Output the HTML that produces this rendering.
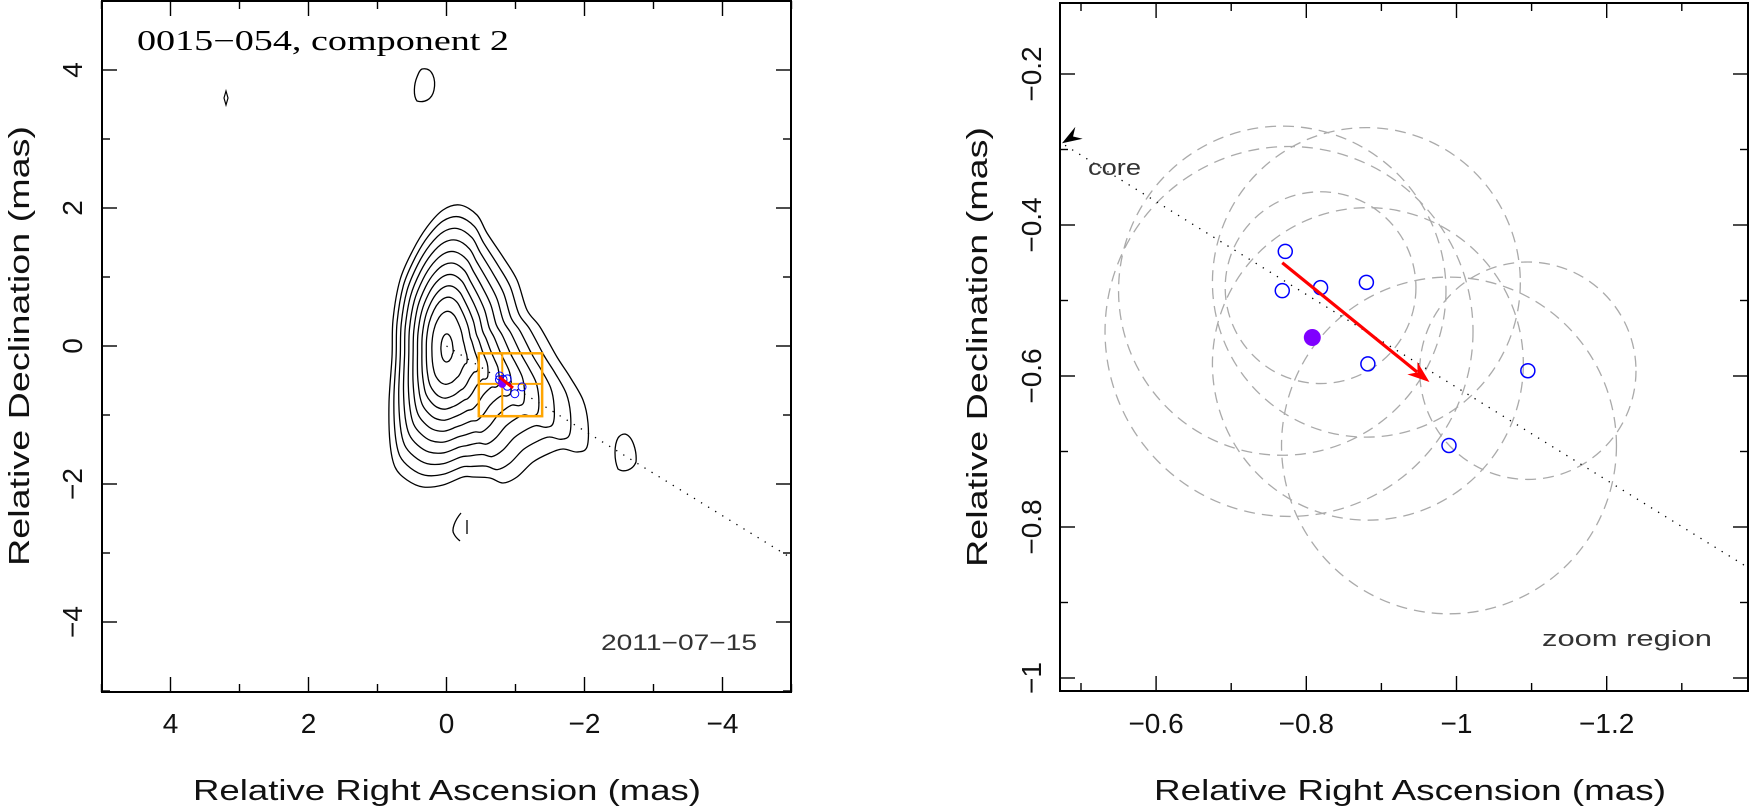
<!DOCTYPE html>
<html><head><meta charset="utf-8">
<style>
html,body{margin:0;padding:0;background:#fff;}
svg{display:block;}
</style></head>
<body>
<svg id="fig" width="1753" height="811" viewBox="0 0 1753 811" xmlns="http://www.w3.org/2000/svg" font-family="Liberation Sans, sans-serif">
<defs>
<clipPath id="clipL"><rect x="102" y="1" width="689" height="691"/></clipPath>
<clipPath id="clipR"><rect x="1060" y="3" width="688" height="688"/></clipPath>
</defs>
<g id="left"></g>
<g id="right"></g>
</svg>
<script>
// ---- data ----
const compRA = [-0.772, -0.768, -0.819, -0.880, -0.882, -0.990, -1.095];
const compDec = [-0.435, -0.487, -0.483, -0.476, -0.584, -0.692, -0.593];
const meanRA = [-0.808];
const meanDec = [-0.549];
const arrowRA = [-0.768, -0.964];
const arrowDec = [-0.450, -0.608];
const circCX = [-0.777, -0.768, -0.819, -0.880, -0.882, -0.990, -1.095];
const circCY = [-0.541, -0.487, -0.483, -0.476, -0.584, -0.692, -0.593];
const circR = [0.245, 0.218, 0.127, 0.205, 0.207, 0.223, 0.144];
const lineSlope = [0.615];
const zoomBox = [-0.468, -1.386, -0.106, -1.017];
const leftXTicks = [4, 2, 0, -2, -4];
const leftYTicks = [4, 2, 0, -2, -4];
const rightXTicks = [-0.6, -0.8, -1, -1.2];
const rightXLabels = ["\u22120.6", "\u22120.8", "\u22121", "\u22121.2"];
const rightYTicks = [-0.2, -0.4, -0.6, -0.8, -1];
const rightYLabels = ["\u22120.2", "\u22120.4", "\u22120.6", "\u22120.8", "\u22121"];
const contourLevels = [1, 0.92, 0.84, 0.76, 0.68, 0.6, 0.52, 0.44, 0.36, 0.26, 0.1];

const NS = "http://www.w3.org/2000/svg";
function mk(parent, tag, attrs, txt) {
  const e = document.createElementNS(NS, tag);
  for (const k in attrs) e.setAttribute(k, attrs[k]);
  if (txt !== undefined) e.textContent = txt;
  parent.appendChild(e);
  return e;
}
const L = document.getElementById('left');
const R = document.getElementById('right');

const lx = v => 446.5 - v * 69;
const ly = v => 346 - v * 69;
const rx = v => 1081 + (-0.5 - v) * 751;
const ry = v => 74 + (-0.2 - v) * 755;
const fmt = v => (v < 0 ? "\u2212" : "") + Math.abs(v);

// ---------- LEFT PANEL ----------
const lc = mk(L, 'g', {'clip-path': 'url(#clipL)'});


const cx0 = 446.7, cy0 = 348;
const outer = [[460,205],[477,215],[487,233],[503,257],[517,280],[527,310],[540,327],[557,357],[570,377],[583,400],[588,423],[587,447],[577,452],[563,449],[550,453],[533,462],[517,477],[503,483],[490,478],[473,477],[463,477],[443,485],[423,487],[407,480],[395,467],[390,443],[389,403],[392,357],[393,320],[400,280],[413,250],[427,227],[443,210]];
function smooth(pts) {
  const n = pts.length; let d = `M${pts[0][0].toFixed(1)},${pts[0][1].toFixed(1)}`;
  for (let i = 0; i < n; i++) {
    const p0 = pts[(i - 1 + n) % n], p1 = pts[i], p2 = pts[(i + 1) % n], p3 = pts[(i + 2) % n];
    const c1 = [p1[0] + (p2[0] - p0[0]) / 6, p1[1] + (p2[1] - p0[1]) / 6];
    const c2 = [p2[0] - (p3[0] - p1[0]) / 6, p2[1] - (p3[1] - p1[1]) / 6];
    d += ` C${c1[0].toFixed(1)},${c1[1].toFixed(1)} ${c2[0].toFixed(1)},${c2[1].toFixed(1)} ${p2[0].toFixed(1)},${p2[1].toFixed(1)}`;
  }
  return d + 'Z';
}
contourLevels.forEach((s, i) => {
  const w = s;
  const pts = outer.map(p => {
    const dx = p[0] - cx0, dy = p[1] - cy0;
    const th = Math.atan2(dy, dx), ro = Math.hypot(dx, dy);
    const re = 1 / Math.sqrt(Math.cos(th) ** 2 / (58 * 58) + Math.sin(th) ** 2 / (141 * 141));
    const r = s * (w * ro + (1 - w) * re);
    return [cx0 + r * Math.cos(th), cy0 + r * Math.sin(th)];
  });
  const p = mk(lc, 'path', {d: smooth(pts), fill: 'none', stroke: '#000', 'stroke-width': 1.3});
  
  
});
const iso1 = mk(lc, 'path', {d: 'M422,69 C433,67 436,80 434,90 C432,100 424,103 417,101 C413,96 414,84 417,77 C419,72 420,70 422,69Z', fill: 'none', stroke: '#000', 'stroke-width': 1.3});


const iso2 = mk(lc, 'path', {d: 'M226,91 L228,98 L226,105 L224,98 Z', fill: 'none', stroke: '#000', 'stroke-width': 1.2});


const iso3 = mk(lc, 'path', {d: 'M625,434 C633,436 637,452 636,462 C633,470 624,473 618,469 C614,460 614,445 618,438 C620,435 622,434 625,434Z', fill: 'none', stroke: '#000', 'stroke-width': 1.3});


const iso4 = mk(lc, 'path', {d: 'M461,513 C455,520 451,530 454,534 C456,538 459,540 460,541 M467,520 L467,534', fill: 'none', stroke: '#000', 'stroke-width': 1.3});


const dl = mk(lc, 'line', {x1: lx(0), y1: ly(0), x2: lx(-5.2), y2: ly(-5.2 * lineSlope[0]), stroke: '#000', 'stroke-width': 1.3, 'stroke-dasharray': '1.3 7'});


const zb = mk(lc, 'rect', {x: lx(zoomBox[0]), y: ly(zoomBox[2]), width: lx(zoomBox[1]) - lx(zoomBox[0]), height: ly(zoomBox[3]) - ly(zoomBox[2]), fill: 'none', stroke: '#ffa500', 'stroke-width': 2.5});


const zv = mk(lc, 'line', {x1: lx(meanRA[0]), y1: ly(zoomBox[2]), x2: lx(meanRA[0]), y2: ly(zoomBox[3]), stroke: '#ffa500', 'stroke-width': 2});


const zh = mk(lc, 'line', {x1: lx(zoomBox[0]), y1: ly(meanDec[0]), x2: lx(zoomBox[1]), y2: ly(meanDec[0]), stroke: '#ffa500', 'stroke-width': 2});


compRA.forEach((v, i) => {
  const c = mk(lc, 'circle', {cx: lx(v), cy: ly(compDec[i]), r: 4, fill: 'none', stroke: '#0000ff', 'stroke-width': 1});
  
  
});
const mps = mk(lc, 'circle', {cx: lx(meanRA[0]), cy: ly(meanDec[0]), r: 4, fill: '#8000ff'});


const ras = mk(lc, 'line', {x1: lx(arrowRA[0]), y1: ly(arrowDec[0]), x2: lx(arrowRA[1]), y2: ly(arrowDec[1]), stroke: '#ff0000', 'stroke-width': 3});



const lf = mk(L, 'rect', {x: 102, y: 1, width: 689, height: 691, fill: 'none', stroke: '#000', 'stroke-width': 2});


for (let v = -5; v <= 5; v++) {
  const len = v % 2 === 0 ? 15 : 8;
  const x = lx(v), y = ly(v);
  mk(L, 'line', {x1: x, y1: 692, x2: x, y2: 692 - len, stroke: '#000', 'stroke-width': 1.4});
  mk(L, 'line', {x1: x, y1: 1, x2: x, y2: 1 + len, stroke: '#000', 'stroke-width': 1.4});
  mk(L, 'line', {x1: 102, y1: y, x2: 102 + len, y2: y, stroke: '#000', 'stroke-width': 1.4});
  mk(L, 'line', {x1: 791, y1: y, x2: 791 - len, y2: y, stroke: '#000', 'stroke-width': 1.4});
}
leftXTicks.forEach(v => {
  const t = mk(L, 'text', {x: lx(v), y: 733, 'font-size': 28, 'text-anchor': 'middle', fill: '#111'}, fmt(v));
  
  
});
leftYTicks.forEach(v => {
  const t = mk(L, 'text', {x: 0, y: 0, 'font-size': 28, 'text-anchor': 'middle', fill: '#111', transform: `translate(82,${ly(v)}) rotate(-90)`}, fmt(v));
  
  
});
const lxt = mk(L, 'text', {x: 447, y: 800, 'font-size': 29, 'text-anchor': 'middle', fill: '#111', textLength: 508, lengthAdjust: 'spacingAndGlyphs'}, 'Relative Right Ascension (mas)');


const lyt = mk(L, 'text', {x: 0, y: 0, 'font-size': 29, 'text-anchor': 'middle', fill: '#111', transform: 'translate(29,346) rotate(-90)', textLength: 440, lengthAdjust: 'spacingAndGlyphs'}, 'Relative Declination (mas)');


const ttl = mk(L, 'text', {x: 137, y: 50, 'font-size': 28, style: 'font-family:"Liberation Serif",serif', textLength: 372, lengthAdjust: 'spacingAndGlyphs'}, '0015\u2212054, component 2');


const dt = mk(L, 'text', {x: 601, y: 650, 'font-size': 22, fill: '#333', textLength: 156, lengthAdjust: 'spacingAndGlyphs'}, '2011\u221207\u221215');



// ---------- RIGHT PANEL ----------
const rc = mk(R, 'g', {'clip-path': 'url(#clipR)'});


circCX.forEach((v, i) => {
  const c = mk(rc, 'ellipse', {cx: rx(v), cy: ry(circCY[i]), rx: circR[i] * 751, ry: circR[i] * 755, fill: 'none', stroke: '#aaa', 'stroke-width': 1.3, 'stroke-dasharray': '11 7'});
  
  
});
const rdl = mk(rc, 'line', {x1: rx(-0.46), y1: ry(-0.46 * lineSlope[0]), x2: rx(-1.4), y2: ry(-1.4 * lineSlope[0]), stroke: '#000', 'stroke-width': 1.3, 'stroke-dasharray': '1.3 7'});


compRA.forEach((v, i) => {
  const c = mk(rc, 'circle', {cx: rx(v), cy: ry(compDec[i]), r: 7, fill: 'none', stroke: '#0000ff', 'stroke-width': 1.5});
  
  
});
const mp = mk(rc, 'circle', {cx: rx(meanRA[0]), cy: ry(meanDec[0]), r: 8.5, fill: '#7f00ff'});


{
  const x1 = rx(arrowRA[0]), y1 = ry(arrowDec[0]), x2 = rx(arrowRA[1]), y2 = ry(arrowDec[1]);
  const ang = Math.atan2(y2 - y1, x2 - x1), hl = 22, hw = 8;
  const bx = x2 - hl * Math.cos(ang), by = y2 - hl * Math.sin(ang);
  const ln = mk(rc, 'line', {x1, y1, x2: bx + 6 * Math.cos(ang), y2: by + 6 * Math.sin(ang), stroke: '#ff0000', 'stroke-width': 3.2});
  
  
  const nx = -Math.sin(ang), ny = Math.cos(ang);
  const mx = x2 - hl * 0.7 * Math.cos(ang), my = y2 - hl * 0.7 * Math.sin(ang);
  const hd = mk(rc, 'polygon', {points: `${x2},${y2} ${bx + hw * nx},${by + hw * ny} ${mx},${my} ${bx - hw * nx},${by - hw * ny}`, fill: '#ff0000'});
  
  
}
{
  const tx = 1062, ty = ry(-0.468 * lineSlope[0]) + 3;
  const ang = Math.atan2(-lineSlope[0] * 755, 751) + Math.PI;
  const hl = 20, hw = 7;
  const bx = tx - hl * Math.cos(ang), by = ty - hl * Math.sin(ang);
  const nx = -Math.sin(ang), ny = Math.cos(ang);
  const mx = tx - hl * 0.65 * Math.cos(ang), my = ty - hl * 0.65 * Math.sin(ang);
  const ch = mk(R, 'polygon', {points: `${tx},${ty} ${bx + hw * nx},${by + hw * ny} ${mx},${my} ${bx - hw * nx},${by - hw * ny}`, fill: '#000'});
  
  
}
const ct = mk(R, 'text', {x: 1088, y: 175, 'font-size': 22, fill: '#333', textLength: 53, lengthAdjust: 'spacingAndGlyphs'}, 'core');


const zr = mk(R, 'text', {x: 1542, y: 646, 'font-size': 22, fill: '#333', textLength: 170, lengthAdjust: 'spacingAndGlyphs'}, 'zoom region');



const rf = mk(R, 'rect', {x: 1060, y: 3, width: 688, height: 688, fill: 'none', stroke: '#000', 'stroke-width': 2});


for (let k = 5; k <= 13; k++) {
  const v = -k / 10, x = rx(v);
  if (x < 1061 || x > 1747) continue;
  const len = k % 2 === 0 ? 15 : 8;
  mk(R, 'line', {x1: x, y1: 691, x2: x, y2: 691 - len, stroke: '#000', 'stroke-width': 1.4});
  mk(R, 'line', {x1: x, y1: 3, x2: x, y2: 3 + len, stroke: '#000', 'stroke-width': 1.4});
}
for (let k = 2; k <= 10; k++) {
  const v = -k / 10, y = ry(v);
  const len = k % 2 === 0 ? 15 : 8;
  mk(R, 'line', {x1: 1060, y1: y, x2: 1060 + len, y2: y, stroke: '#000', 'stroke-width': 1.4});
  mk(R, 'line', {x1: 1748, y1: y, x2: 1748 - len, y2: y, stroke: '#000', 'stroke-width': 1.4});
}
rightXTicks.forEach((v, i) => {
  const t = mk(R, 'text', {x: rx(v), y: 733, 'font-size': 28, 'text-anchor': 'middle', fill: '#111'}, rightXLabels[i]);
  
  
});
rightYTicks.forEach((v, i) => {
  const t = mk(R, 'text', {x: 0, y: 0, 'font-size': 28, 'text-anchor': 'middle', fill: '#111', transform: `translate(1041,${ry(v)}) rotate(-90)`}, rightYLabels[i]);
  
  
});
const rxt = mk(R, 'text', {x: 1410, y: 800, 'font-size': 29, 'text-anchor': 'middle', fill: '#111', textLength: 512, lengthAdjust: 'spacingAndGlyphs'}, 'Relative Right Ascension (mas)');


const ryt = mk(R, 'text', {x: 0, y: 0, 'font-size': 29, 'text-anchor': 'middle', fill: '#111', transform: 'translate(987,347) rotate(-90)', textLength: 440, lengthAdjust: 'spacingAndGlyphs'}, 'Relative Declination (mas)');


</script>
</body></html>
